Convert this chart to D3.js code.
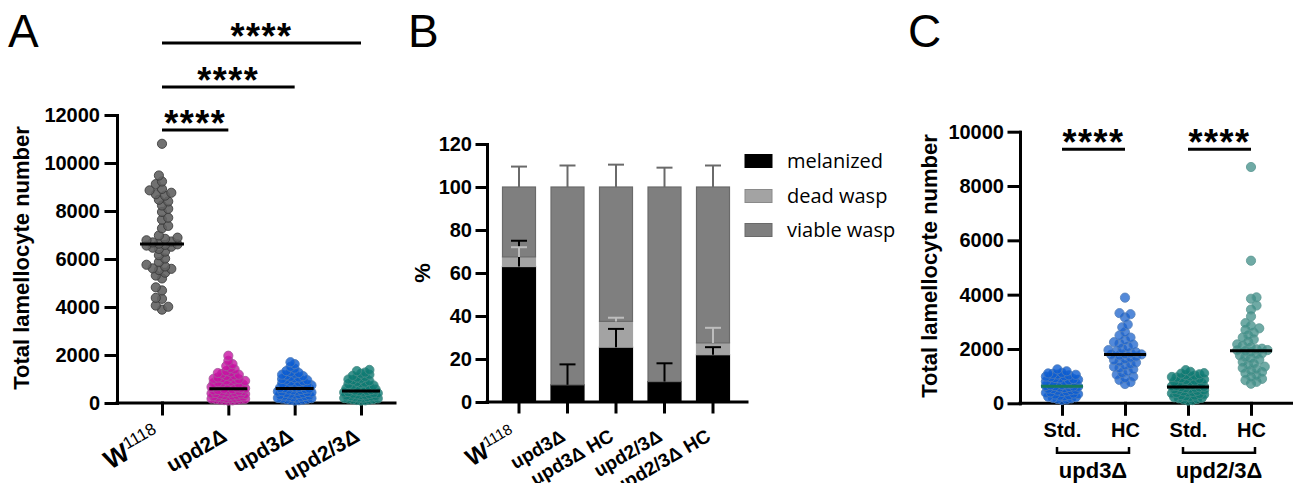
<!DOCTYPE html>
<html>
<head>
<meta charset="utf-8">
<script src="https://cdn.jsdelivr.net/npm/d3@7"></script>
<style>
body { margin: 0; background: #fff; }
</style>
</head>
<body>
<script>
// ---- panel A data ----
let groupsA = ["W1118", "upd2Δ", "upd3Δ", "upd2/3Δ"];
let ticksA = [0, 2000, 4000, 6000, 8000, 10000, 12000];
let w1118 = [10800, 9480, 9230, 9120, 8920, 8860, 8760, 8700, 8640, 8470, 8400, 8230, 8090, 7960,
             7720, 7640, 7380, 7280, 6980, 6890, 6840, 6780, 6730, 6690, 6640, 6610, 6590, 6560,
             6510, 6470, 6420, 6310, 6160, 6020, 5870, 5760, 5690, 5610, 5590, 5540, 5430, 5310,
             5190, 4820, 4690, 4380, 4340, 4060, 4010, 3890];
let upd2 = [1970, 1760, 1620, 1540, 1460, 1400, 1330, 1280, 1250, 1220, 1180, 1150, 1130, 1090,
            1060, 1040, 1010, 990, 970, 940, 920, 900, 870, 850, 830, 810, 790, 770, 755, 730,
            715, 690, 670, 650, 630, 610, 590, 575, 560, 540, 525, 510, 495, 480, 460, 445, 430,
            415, 400, 390, 375, 360, 345, 330, 315, 300, 290, 275, 260, 250, 235, 220, 210, 195,
            180, 170, 160, 150, 140, 130, 120, 110, 100];
let upd3 = [1700, 1620, 1510, 1430, 1330, 1290, 1250, 1220, 1180, 1150, 1120, 1090, 1060, 1030,
            1000, 970, 950, 920, 890, 870, 840, 810, 790, 760, 740, 720, 690, 670, 650, 630, 615,
            600, 585, 560, 545, 530, 510, 490, 475, 460, 440, 420, 405, 390, 370, 355, 340, 320,
            305, 290, 275, 260, 240, 225, 210, 200, 185, 170, 155, 140, 130, 115, 100];
let upd23 = [1380, 1330, 1270, 1220, 1180, 1130, 1090, 1060, 1010, 980, 950, 910, 880, 850, 820,
             790, 760, 730, 700, 680, 650, 630, 600, 580, 560, 540, 520, 505, 490, 470, 455, 440,
             420, 405, 390, 375, 360, 345, 330, 315, 300, 290, 275, 260, 245, 230, 220, 205, 190,
             180, 165, 150, 140, 125, 110, 100];

// ---- panel B data ----
let catsB = ["W1118", "upd3Δ", "upd3Δ HC", "upd2/3Δ", "upd2/3Δ HC"];
let seriesB = ["melanized", "dead wasp", "viable wasp"];
let melanized = [63, 8, 25.5, 9.5, 22];
let deadWasp = [4.5, 0, 12, 0, 5.5];
let viableWasp = [32.5, 92, 62.5, 90.5, 72.5];
let melErr = [12, 9.5, 8.5, 8.5, 3.5];
let deadErr = [4.5, 0, 1.7, 0, 7];
let viableErr = [9.5, 10, 10.4, 9, 10];
let ticksB = [0, 20, 40, 60, 80, 100, 120];

// ---- panel C data ----
let groupsC = ["upd3Δ Std.", "upd3Δ HC", "upd2/3Δ Std.", "upd2/3Δ HC"];
let tickLabelsC = ["Std.", "HC", "Std.", "HC"];
let genotypesC = ["upd3Δ", "upd2/3Δ"];
let ticksC = [0, 2000, 4000, 6000, 8000, 10000];
let upd3Std = [1250, 1180, 1120, 1100, 1085, 1060, 1050, 1030, 1000, 985, 960, 930, 915, 890, 870,
               850, 825, 800, 785, 760, 740, 720, 700, 680, 665, 640, 630, 620, 610, 600, 585, 560,
               540, 525, 500, 480, 465, 440, 420, 400, 385, 360, 340, 325, 300, 280, 260, 240, 225,
               200, 180, 160, 140, 120];
let upd3HC = [3890, 3320, 3280, 3160, 2900, 2800, 2620, 2500, 2420, 2330, 2250, 2200, 2160, 2080,
              2010, 1960, 1930, 1880, 1850, 1820, 1800, 1790, 1760, 1720, 1680, 1630, 1590, 1540,
              1500, 1450, 1400, 1350, 1300, 1250, 1180, 1120, 1050, 980, 930, 860, 780, 710];
let upd23Std = [1220, 1160, 1110, 1090, 1070, 1040, 1020, 990, 970, 950, 920, 900, 880, 860, 835,
                810, 790, 770, 750, 720, 700, 680, 660, 640, 625, 610, 600, 590, 575, 560, 540, 520,
                500, 480, 460, 440, 420, 400, 380, 365, 345, 320, 300, 285, 260, 240, 220, 200, 185,
                160, 140, 120, 100];
let upd23HC = [8700, 5250, 3900, 3850, 3600, 3450, 3200, 2950, 2850, 2760, 2700, 2600, 2500, 2420,
               2350, 2260, 2170, 2120, 2060, 2010, 1990, 1960, 1950, 1920, 1880, 1840, 1800, 1760,
               1700, 1650, 1600, 1520, 1460, 1400, 1350, 1300, 1260, 1200, 1150, 1100, 1020, 960,
               900, 850, 790, 720];

let svg = d3.select("body")
            .append("svg")
            .attr("width", 1293)
            .attr("height", 483)
            .style("background", "#fff");

let boldFont = "'Liberation Sans', Arial, sans-serif";

function styleAxis(g) {
    g.selectAll("path, line").attr("stroke", "#000").attr("stroke-width", 3)
     .attr("stroke-linecap", "square");
    g.selectAll("text").attr("font-family", boldFont).attr("font-weight", "bold")
     .attr("font-size", 20).attr("fill", "#000");
}

// simple beeswarm that lets dots overlap a bit
function swarm(vals, y, cx, gap, half) {
    let pts = vals.map(function(v) { return {v: v, y: y(v)}; })
                  .sort(function(a, b) { return b.y - a.y; });
    let done = [];
    let step = gap / 2;
    pts.forEach(function(p, i) {
        let best = 0, bestD = -1, found = false;
        for (let k = 0; k * step <= half && !found; k++) {
            let signs = k === 0 ? [0] : (i % 2 ? [1, -1] : [-1, 1]);
            for (let s of signs) {
                let off = s * k * step;
                let dmin = Infinity;
                done.forEach(function(q) {
                    let d = Math.hypot(q.x - cx - off, q.y - p.y);
                    if (d < dmin) dmin = d;
                });
                if (dmin >= gap) { best = off; found = true; break; }
                if (dmin > bestD) { bestD = dmin; best = off; }
            }
        }
        p.x = cx + best;
        done.push(p);
    });
    return pts;
}

function drawSwarm(vals, y, cx, gap, half, col, medColor, medHalf) {
    let pts = swarm(vals, y, cx, gap, half);
    svg.append("g").selectAll("circle")
       .data(pts)
       .enter()
       .append("circle")
       .attr("cx", function(d) { return d.x; })
       .attr("cy", function(d) { return d.y; })
       .attr("r", 4.6)
       .attr("fill", col[0])
       .attr("fill-opacity", col[2])
       .attr("stroke", col[1])
       .attr("stroke-opacity", 0.85)
       .attr("stroke-width", 1);
    let m = d3.median(vals);
    svg.append("line")
       .attr("x1", cx - medHalf).attr("x2", cx + medHalf)
       .attr("y1", y(m)).attr("y2", y(m))
       .attr("stroke", medColor).attr("stroke-width", 3);
}

function panelLetter(x, t) {
    svg.append("text").attr("x", x).attr("y", 47).text(t)
       .attr("font-family", boldFont)
       .attr("font-size", 46).attr("fill", "#000");
}

function sigBar(x1, x2, y) {
    svg.append("line").attr("x1", x1).attr("x2", x2).attr("y1", y).attr("y2", y)
       .attr("stroke", "#000").attr("stroke-width", 3);
    svg.append("text").attr("x", (x1 + x2) / 2).attr("y", y + 6)
       .attr("text-anchor", "middle").attr("font-family", boldFont)
       .attr("font-weight", "bold").attr("font-size", 36)
       .attr("letter-spacing", 1.5).text("****");
}

function yTitle(x, y, t) {
    svg.append("text")
       .attr("transform", "translate(" + x + "," + y + ") rotate(-90)")
       .attr("text-anchor", "middle").attr("font-family", boldFont)
       .attr("font-weight", "bold").attr("font-size", 22).text(t);
}

function rotLabel(x, y, t, size) {
    let txt = svg.append("text")
                 .attr("transform", "translate(" + x + "," + y + ") rotate(-30)")
                 .attr("text-anchor", "end").attr("font-family", boldFont)
                 .attr("font-weight", "bold").attr("font-size", size);
    if (t === "W1118") {
        txt.append("tspan").text("W").attr("font-size", size + 5);
        txt.append("tspan").text("1118").attr("font-weight", "normal")
           .attr("font-size", size - 4).attr("dy", -9);
    } else {
        txt.text(t);
    }
}

// ================= Panel A =================
panelLetter(8, "A");
let yA = d3.scaleLinear().domain([0, 12000]).range([403, 115]);
let xA = d3.scalePoint().domain(groupsA).range([162, 361]);

svg.append("g").attr("transform", "translate(117,0)")
   .call(d3.axisLeft(yA).tickValues(ticksA).tickSize(11).tickSizeOuter(0)
         .tickPadding(6).tickFormat(d3.format("d")))
   .call(styleAxis);
let gxA = svg.append("g").attr("transform", "translate(0,403)")
   .call(d3.axisBottom(xA).tickSize(11).tickFormat(""));
gxA.select(".domain").remove();
gxA.append("line").attr("x1", 117).attr("x2", 395);
gxA.call(styleAxis);
groupsA.forEach(function(g) { rotLabel(xA(g), 440, g, 21); });
yTitle(29, 258, "Total lamellocyte number");

let colA = [["#626262", "#3a3a3a", 0.9], ["#c811a2", "#a45a9a", 0.8],
            ["#0b5cd2", "#4f7bb8", 0.8], ["#0e7b73", "#468c86", 0.8]];
let dataA = [w1118, upd2, upd3, upd23];
dataA.forEach(function(vals, i) {
    let cx = xA(groupsA[i]);
    if (i === 0) drawSwarm(vals, yA, cx, 6.2, 17, colA[i], "#000", 22);
    else drawSwarm(vals, yA, cx, 4.2, 17, colA[i], "#000", 19);
});

sigBar(xA(groupsA[0]), xA(groupsA[1]), 130);
sigBar(xA(groupsA[0]), xA(groupsA[2]), 87);
sigBar(xA(groupsA[0]), xA(groupsA[3]), 43);

// ================= Panel B =================
panelLetter(408, "B");
let yB = d3.scaleLinear().domain([0, 120]).range([402, 144]);
let xB = d3.scaleBand().domain(catsB).range([494.75, 737.25]).paddingInner(0.32).paddingOuter(0.16);
let tableB = catsB.map(function(c, i) {
    return {cat: c, "melanized": melanized[i], "dead wasp": deadWasp[i], "viable wasp": viableWasp[i]};
});
let stackB = d3.stack().keys(seriesB)(tableB);
let fillB = {"melanized": "#000", "dead wasp": "#a3a3a3", "viable wasp": "#7f7f7f"};
let strokeB = {"melanized": "#000", "dead wasp": "#a3a3a3", "viable wasp": "#6a6a6a"};

stackB.forEach(function(layer) {
    svg.append("g").selectAll("rect")
       .data(layer)
       .enter()
       .append("rect")
       .attr("x", function(d) { return xB(d.data.cat); })
       .attr("y", function(d) { return yB(d[1]); })
       .attr("width", xB.bandwidth())
       .attr("height", function(d) { return yB(d[0]) - yB(d[1]); })
       .attr("fill", fillB[layer.key])
       .attr("stroke", strokeB[layer.key])
       .attr("stroke-width", 1.2);
});

// error bars, drawn from the top of each segment upward
let errB = [[melErr, "#000", 0], [deadErr, "#bdbdbd", 1], [viableErr, "#6a6a6a", 2]];
errB.forEach(function(e) {
    let layer = stackB[e[2]];
    catsB.forEach(function(c, i) {
        if (e[0][i] <= 0) return;
        let cx = xB(c) + xB.bandwidth() / 2;
        let y0 = yB(layer[i][1]);
        let y1 = yB(layer[i][1] + e[0][i]);
        svg.append("line").attr("x1", cx).attr("x2", cx).attr("y1", y0).attr("y2", y1)
           .attr("stroke", e[1]).attr("stroke-width", 2);
        svg.append("line").attr("x1", cx - 8).attr("x2", cx + 8).attr("y1", y1).attr("y2", y1)
           .attr("stroke", e[1]).attr("stroke-width", 2);
    });
});

svg.append("g").attr("transform", "translate(487,0)")
   .call(d3.axisLeft(yB).tickValues(ticksB).tickSize(10).tickSizeOuter(0).tickPadding(5))
   .call(styleAxis);
let gxB = svg.append("g").attr("transform", "translate(0,402)")
   .call(d3.axisBottom(xB).tickSize(10).tickFormat(""));
gxB.select(".domain").remove();
gxB.append("line").attr("x1", 487).attr("x2", 747);
gxB.call(styleAxis);
catsB.forEach(function(c) { rotLabel(xB(c) + xB.bandwidth() / 2 - 1, 440, c, 19); });
yTitle(430, 273, "%");

let legB = svg.append("g");
seriesB.forEach(function(s, i) {
    let cy = [161, 196, 230][i];
    legB.append("rect").attr("x", 745).attr("y", cy - 6.5).attr("width", 27).attr("height", 13)
        .attr("fill", fillB[s]).attr("stroke", strokeB[s] === "#a3a3a3" ? "#8a8a8a" : strokeB[s]);
    legB.append("text").attr("x", 787).attr("y", cy + 7).text(s)
        .attr("font-family", "'Open Sans', 'Noto Sans', sans-serif").attr("font-size", 20);
});

// ================= Panel C =================
panelLetter(908, "C");
let yC = d3.scaleLinear().domain([0, 10000]).range([403.3, 131.7]);
let xC = d3.scalePoint().domain(groupsC).range([1062, 1251]);

svg.append("g").attr("transform", "translate(1020,0)")
   .call(d3.axisLeft(yC).tickValues(ticksC).tickSize(11).tickSizeOuter(0)
         .tickPadding(5).tickFormat(d3.format("d")))
   .call(styleAxis);
let gxC = svg.append("g").attr("transform", "translate(0,403.3)")
   .call(d3.axisBottom(xC).tickSize(11).tickPadding(9)
         .tickFormat(function(d, i) { return tickLabelsC[i]; }));
gxC.select(".domain").remove();
gxC.append("line").attr("x1", 1020).attr("x2", 1293);
gxC.call(styleAxis);
yTitle(937, 266, "Total lamellocyte number");

genotypesC.forEach(function(g, i) {
    let x0 = xC(groupsC[2 * i]) - 5;
    let x1 = xC(groupsC[2 * i + 1]) + 4;
    svg.append("path")
       .attr("d", "M" + x0 + ",447V452.7H" + x1 + "V447")
       .attr("fill", "none").attr("stroke", "#000").attr("stroke-width", 2.5);
    svg.append("text").attr("x", (x0 + x1) / 2).attr("y", 478).attr("text-anchor", "middle")
       .attr("font-family", boldFont).attr("font-weight", "bold").attr("font-size", 22).text(g);
});

let colC = [["#0b5cd2", "#4f7bb8", 0.8], ["#1a62cc", "#5882bb", 0.75],
            ["#0e7b73", "#468c86", 0.8], ["#3f8e87", "#5f9a95", 0.75]];
let medC = ["#17795c", "#000", "#000", "#000"];
[upd3Std, upd3HC, upd23Std, upd23HC].forEach(function(vals, i) {
    let cx = xC(groupsC[i]);
    drawSwarm(vals, yC, cx, i % 2 ? 5.5 : 4.6, 17, colC[i], medC[i], 21);
});

sigBar(xC(groupsC[0]), xC(groupsC[1]), 149.3);
sigBar(xC(groupsC[2]), xC(groupsC[3]), 149.3);
</script>
</body>
</html>
